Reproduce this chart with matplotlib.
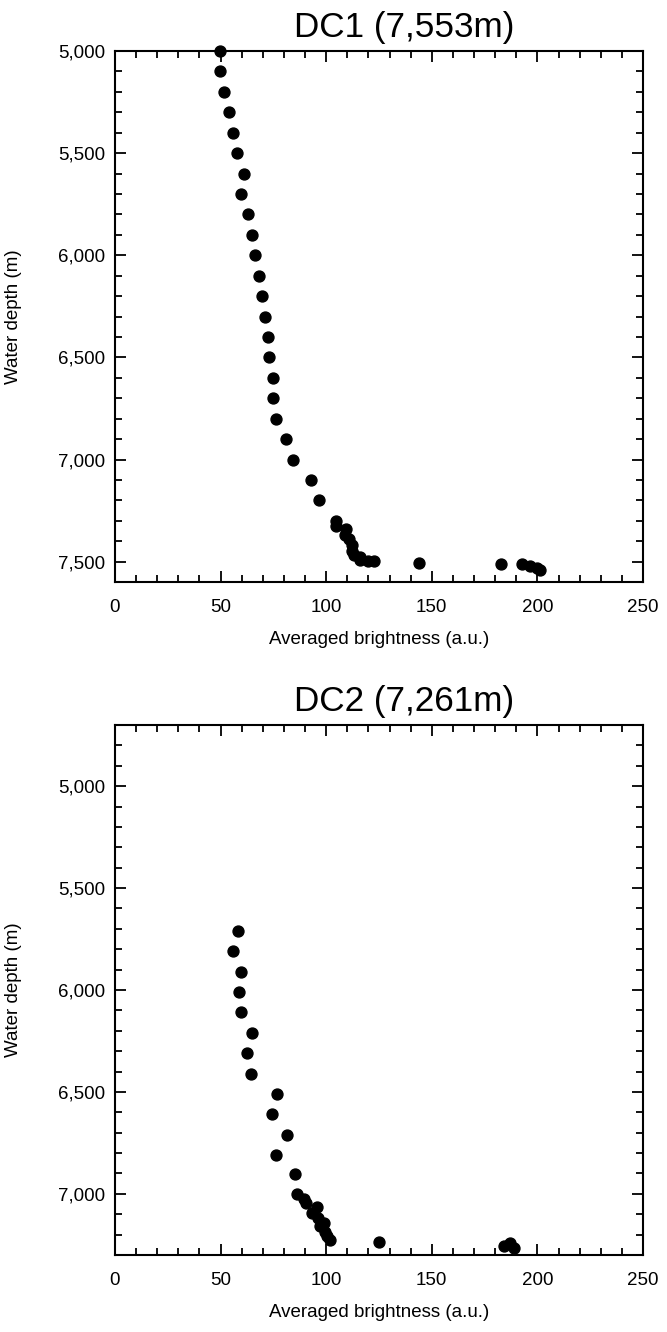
import matplotlib
matplotlib.use("Agg")
import matplotlib.pyplot as plt
from matplotlib.ticker import MultipleLocator, FuncFormatter

plt.rcParams['font.family'] = ['Liberation Sans', 'DejaVu Sans']

# DC1 (7,553 m): averaged brightness vs water depth
dc1_brightness = [49.5, 49.9, 51.5, 54.0, 56.0, 58.0, 61.0, 59.5, 62.8, 65.0,
                  66.3, 68.0, 69.5, 71.0, 72.5, 73.0, 74.8, 74.7, 76.0, 81.2,
                  84.2, 92.8, 96.8, 104.8, 104.8, 109.2, 108.8, 110.8, 112.4,
                  112.4, 113.0, 116.2, 116.2, 120.0, 122.8, 143.8, 182.6, 192.6,
                  196.5, 199.7, 201.0]
dc1_depth = [5000, 5100, 5200, 5300, 5400, 5500, 5600, 5700, 5800, 5900,
             6000, 6100, 6200, 6300, 6400, 6500, 6600, 6700, 6800, 6900,
             7000, 7100, 7200, 7303, 7324, 7340, 7368, 7389, 7417,
             7449, 7469, 7477, 7490, 7498, 7498, 7505, 7510, 7511,
             7523, 7531, 7542]

# DC2 (7,261 m)
dc2_brightness = [58.4, 56.0, 59.5, 58.9, 59.8, 64.9, 62.6, 64.5, 76.6, 74.5,
                  81.4, 76.2, 85.1, 86.3, 89.3, 90.6, 95.6, 93.2, 96.1, 99.1,
                  97.2, 99.5, 100.3, 101.6, 125.1, 184.3, 187.0, 189.0]
dc2_depth = [5710, 5810, 5910, 6010, 6110, 6210, 6310, 6410, 6510, 6610,
             6710, 6810, 6905, 7003, 7025, 7045, 7066, 7094, 7119, 7143,
             7160, 7185, 7206, 7226, 7236, 7256, 7242, 7267]

panels = [
    ("DC1 (7,553m)", dc1_brightness, dc1_depth, (7600, 5000)),
    ("DC2 (7,261m)", dc2_brightness, dc2_depth, (7300, 4700)),
]
axes_rects = [[0.1724, 0.563, 0.7916, 0.3987],
              [0.1724, 0.0578, 0.7916, 0.3979]]

fig = plt.figure(figsize=(6.67, 13.32), dpi=100)

for (title, xs, ys, ylim), rect in zip(panels, axes_rects):
    ax = fig.add_axes(rect)
    ax.scatter(xs, ys, s=62, color='black', zorder=3, clip_on=False)
    ax.set_xlim(0, 250)
    ax.set_ylim(*ylim)
    ax.xaxis.set_major_locator(MultipleLocator(50))
    ax.xaxis.set_minor_locator(MultipleLocator(10))
    ax.yaxis.set_major_locator(MultipleLocator(500))
    ax.yaxis.set_minor_locator(MultipleLocator(100))
    ax.yaxis.set_major_formatter(FuncFormatter(lambda v, p: f"{int(v):,}"))
    ax.tick_params(which='both', direction='in', top=True, right=True,
                   width=1.3, labelsize=13.5)
    ax.tick_params(which='major', length=8, pad=7)
    ax.tick_params(axis='x', which='major', pad=12)
    ax.tick_params(which='minor', length=5)
    for sp in ax.spines.values():
        sp.set_linewidth(1.5)
    ax.set_xlabel("Averaged brightness (a.u.)", fontsize=13.5, labelpad=11)
    ax.set_ylabel("Water depth (m)", fontsize=13.5, labelpad=26)
    ax.set_title(title, fontsize=25.3, x=0.547, pad=10)

fig.savefig("out.png", dpi=100)
